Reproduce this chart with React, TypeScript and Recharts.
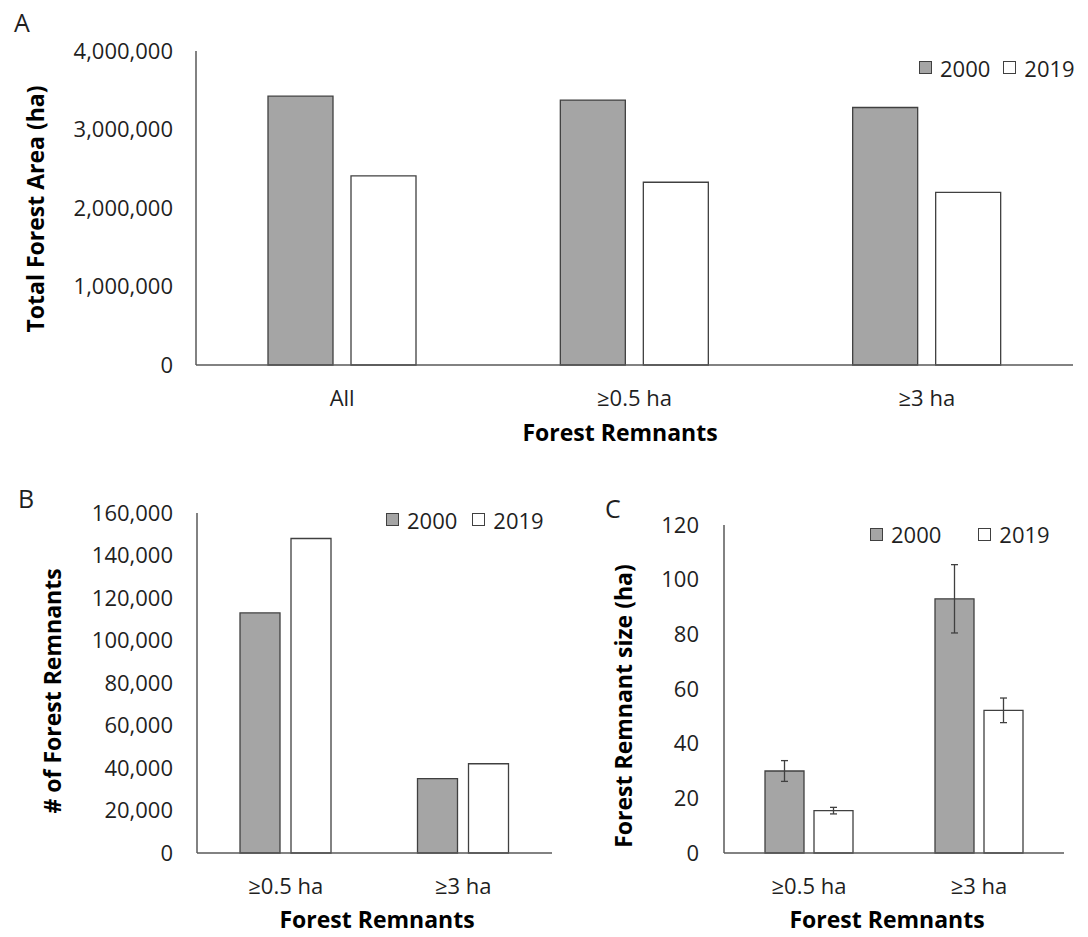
import React from 'react';
import { BarChart, Bar, XAxis, YAxis, Legend, ErrorBar, Label } from 'recharts';

// ---------- data ----------
const seriesNames = ['2000', '2019'];

const areaCategories = ['All', '≥0.5 ha', '≥3 ha'];
const area2000 = [3425000, 3375000, 3280000];
const area2019 = [2410000, 2328000, 2200000];
const areaTicks = [0, 1000000, 2000000, 3000000, 4000000];

const countCategories = ['≥0.5 ha', '≥3 ha'];
const count2000 = [113000, 35000];
const count2019 = [148000, 42000];
const countTicks = [0, 20000, 40000, 60000, 80000, 100000, 120000, 140000, 160000];

const sizeCategories = ['≥0.5 ha', '≥3 ha'];
const size2000 = [30, 93];
const size2019 = [15.5, 52.2];
const sizeErr2000 = [3.8, 12.5];
const sizeErr2019 = [1.2, 4.5];
const sizeTicks = [0, 20, 40, 60, 80, 100, 120];

// ---------- styles ----------
const FONT = '"Open Sans", "Noto Sans", sans-serif';
const TEXT = '#1f1f1f';
const AXIS = '#595959';
const EDGE = '#404040';
const seriesFills = ['#A5A5A5', '#FFFFFF'];

const areaRows = areaCategories.map((c, i) => ({ category: c, v2000: area2000[i], v2019: area2019[i] }));
const countRows = countCategories.map((c, i) => ({ category: c, v2000: count2000[i], v2019: count2019[i] }));
const sizeRows = sizeCategories.map((c, i) => ({
  category: c,
  v2000: size2000[i],
  v2019: size2019[i],
  e2000: sizeErr2000[i],
  e2019: sizeErr2019[i],
}));

const fmt = (v: number) => v.toLocaleString('en-US');
const tickStyle = { fontSize: 22, fill: TEXT, fontFamily: FONT };

const makeLegend = (gap: number) => () => (
  <div
    style={{
      display: 'flex',
      alignItems: 'center',
      fontFamily: FONT,
      fontSize: 22,
      color: TEXT,
      lineHeight: '26px',
      whiteSpace: 'nowrap',
    }}
  >
    {seriesNames.map((name, i) => (
      <div key={name} style={{ display: 'flex', alignItems: 'center', marginLeft: i === 0 ? 0 : gap }}>
        <span
          style={{
            display: 'inline-block',
            width: 11,
            height: 11,
            background: seriesFills[i],
            border: `1px solid ${EDGE}`,
            marginRight: 8,
          }}
        />
        <span>{name}</span>
      </div>
    ))}
  </div>
);

const rotatedTitle = (text: string, x: number, y: number) => () => (
  <text
    x={x}
    y={y}
    transform={`rotate(-90 ${x} ${y})`}
    textAnchor="middle"
    fontFamily={FONT}
    fontSize={23}
    fontWeight={700}
    fill="#000"
  >
    {text}
  </text>
);

const flatTitle = (text: string, x: number, y: number) => () => (
  <text x={x} y={y} textAnchor="middle" fontFamily={FONT} fontSize={23} fontWeight={700} fill="#000">
    {text}
  </text>
);

const xAxisProps = {
  dataKey: 'category',
  axisLine: { stroke: AXIS, strokeWidth: 1.5 },
  tickLine: false,
  tickSize: 0,
  tickMargin: 25,
  interval: 0 as const,
  tick: tickStyle,
};

export default function App() {
  return (
    <div style={{ position: 'absolute', left: 0, top: 0, width: 1088, height: 937, background: '#fff', overflow: 'hidden' }}>
      {/* Panel A */}
      <div style={{ position: 'absolute', left: 0, top: 0 }}>
        <BarChart
          width={1088}
          height={460}
          data={areaRows}
          margin={{ top: 51, right: 15, left: 0, bottom: 0 }}
          barSize={65}
          barGap={18}
        >
          <XAxis {...xAxisProps} height={95}>
            <Label content={flatTitle('Forest Remnants', 620, 441)} />
          </XAxis>
          <YAxis
            width={196}
            domain={[0, 4000000]}
            ticks={areaTicks}
            tickFormatter={fmt}
            axisLine={{ stroke: AXIS, strokeWidth: 1.5 }}
            tickLine={false}
            tickSize={0}
            tickMargin={23}
            tick={tickStyle}
          >
            <Label content={rotatedTitle('Total Forest Area (ha)', 44, 209)} />
          </YAxis>
          <Legend
            layout="vertical"
            align="center"
            verticalAlign="middle"
            content={makeLegend(13)}
            wrapperStyle={{ left: 919, top: 54.5, width: 'auto', height: 'auto' }}
          />
          <Bar dataKey="v2000" name={seriesNames[0]} fill={seriesFills[0]} stroke={EDGE} strokeWidth={1.3} isAnimationActive={false} />
          <Bar dataKey="v2019" name={seriesNames[1]} fill={seriesFills[1]} stroke={EDGE} strokeWidth={1.3} isAnimationActive={false} />
        </BarChart>
      </div>

      {/* Panel B */}
      <div style={{ position: 'absolute', left: 0, top: 470 }}>
        <BarChart
          width={560}
          height={467}
          data={countRows}
          margin={{ top: 43, right: 8, left: 0, bottom: 0 }}
          barSize={40}
          barGap={11}
        >
          <XAxis {...xAxisProps} height={84}>
            <Label content={flatTitle('Forest Remnants', 377, 458)} />
          </XAxis>
          <YAxis
            width={197}
            domain={[0, 160000]}
            ticks={countTicks}
            tickFormatter={fmt}
            axisLine={{ stroke: AXIS, strokeWidth: 1.5 }}
            tickLine={false}
            tickSize={0}
            tickMargin={24}
            tick={tickStyle}
          >
            <Label content={rotatedTitle('# of Forest Remnants', 61, 221)} />
          </YAxis>
          <Legend
            layout="vertical"
            align="center"
            verticalAlign="middle"
            content={makeLegend(15)}
            wrapperStyle={{ left: 386, top: 36.5, width: 'auto', height: 'auto' }}
          />
          <Bar dataKey="v2000" name={seriesNames[0]} fill={seriesFills[0]} stroke={EDGE} strokeWidth={1.3} isAnimationActive={false} />
          <Bar dataKey="v2019" name={seriesNames[1]} fill={seriesFills[1]} stroke={EDGE} strokeWidth={1.3} isAnimationActive={false} />
        </BarChart>
      </div>

      {/* Panel C */}
      <div style={{ position: 'absolute', left: 560, top: 470 }}>
        <BarChart
          width={528}
          height={467}
          data={sizeRows}
          margin={{ top: 55, right: 24, left: 0, bottom: 0 }}
          barSize={39}
          barGap={10}
        >
          <XAxis {...xAxisProps} height={84}>
            <Label content={flatTitle('Forest Remnants', 327, 458)} />
          </XAxis>
          <YAxis
            width={164}
            domain={[0, 120]}
            ticks={sizeTicks}
            axisLine={{ stroke: AXIS, strokeWidth: 1.5 }}
            tickLine={false}
            tickSize={0}
            tickMargin={25}
            tick={tickStyle}
          >
            <Label content={rotatedTitle('Forest Remnant size (ha)', 72, 236)} />
          </YAxis>
          <Legend
            layout="vertical"
            align="center"
            verticalAlign="middle"
            content={makeLegend(37)}
            wrapperStyle={{ left: 310, top: 51, width: 'auto', height: 'auto' }}
          />
          <Bar dataKey="v2000" name={seriesNames[0]} fill={seriesFills[0]} stroke={EDGE} strokeWidth={1.3} isAnimationActive={false}>
            <ErrorBar dataKey="e2000" width={3.5} stroke={EDGE} strokeWidth={1.3} direction="y" />
          </Bar>
          <Bar dataKey="v2019" name={seriesNames[1]} fill={seriesFills[1]} stroke={EDGE} strokeWidth={1.3} isAnimationActive={false}>
            <ErrorBar dataKey="e2019" width={3.5} stroke={EDGE} strokeWidth={1.3} direction="y" />
          </Bar>
        </BarChart>
      </div>

      {/* Panel letters */}
      <svg width={1088} height={937} style={{ position: 'absolute', left: 0, top: 0, pointerEvents: 'none' }}>
        <text x={14} y={32} fontFamily={FONT} fontSize={25} fill={TEXT}>A</text>
        <text x={18} y={508} fontFamily={FONT} fontSize={25} fill={TEXT}>B</text>
        <text x={605} y={518} fontFamily={FONT} fontSize={25} fill={TEXT}>C</text>
      </svg>
    </div>
  );
}
